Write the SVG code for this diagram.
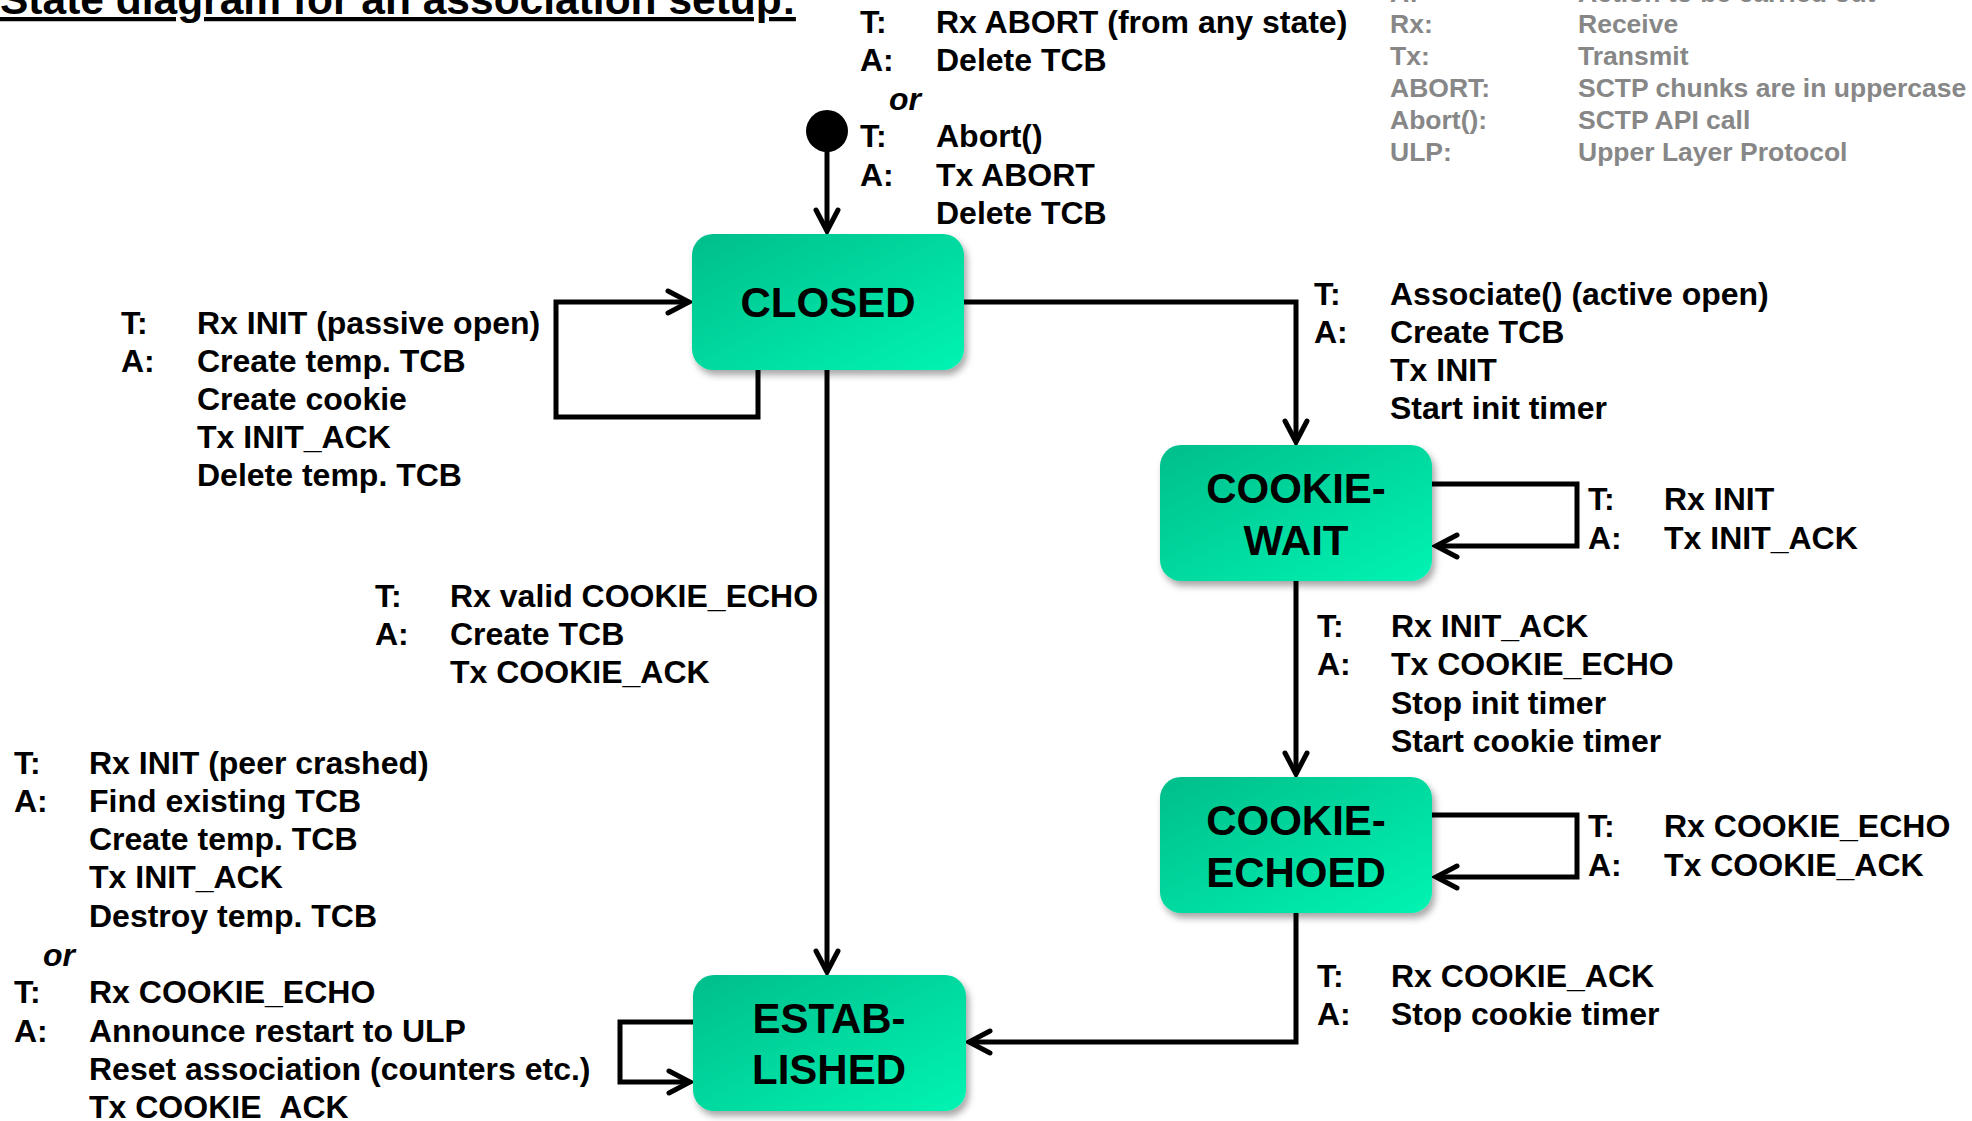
<svg xmlns="http://www.w3.org/2000/svg" width="1972" height="1121" viewBox="0 0 1972 1121">
<defs>
<linearGradient id="g" x1="0" y1="0" x2="1" y2="1">
<stop offset="0" stop-color="#06BE8B"/>
<stop offset="1" stop-color="#00F4B3"/>
</linearGradient>
<filter id="sh" x="-10%" y="-10%" width="125%" height="130%">
<feDropShadow dx="3" dy="5" stdDeviation="3.5" flood-color="#000" flood-opacity="0.35"/>
</filter>
<marker id="arr" markerUnits="userSpaceOnUse" markerWidth="40" markerHeight="40" viewBox="-30 -20 40 40" refX="0" refY="0" orient="auto" overflow="visible">
<path d="M-21,-11 L0,0 L-21,11" fill="none" stroke="#000" stroke-width="5" stroke-linecap="round" stroke-linejoin="miter"/>
</marker>
<style>
.t{font-family:"Liberation Sans",Arial,sans-serif;font-weight:bold;font-size:32px;fill:#000}
.i{font-style:italic}
.lg{font-family:"Liberation Sans",Arial,sans-serif;font-weight:bold;font-size:26.5px;fill:#878787}
.n{font-family:"Liberation Sans",Arial,sans-serif;font-weight:bold;font-size:42px;fill:#000;text-anchor:middle}
.box{fill:url(#g);filter:url(#sh)}
.c{fill:none;stroke:#000;stroke-width:5;stroke-linejoin:miter}
</style>
</defs>
<rect width="1972" height="1121" fill="#fff"/>

<text x="0" y="14" class="t" style="font-size:42.5px;text-decoration:underline">State diagram for an association setup:</text>

<g id="legend" class="lg">
<text x="1390" y="2">A:</text><text x="1578" y="2">Action to be carried out</text>
<text x="1390" y="33">Rx:</text><text x="1578" y="33">Receive</text>
<text x="1390" y="65">Tx:</text><text x="1578" y="65">Transmit</text>
<text x="1390" y="97">ABORT:</text><text x="1578" y="97">SCTP chunks are in uppercase</text>
<text x="1390" y="129">Abort():</text><text x="1578" y="129">SCTP API call</text>
<text x="1390" y="161">ULP:</text><text x="1578" y="161">Upper Layer Protocol</text>
</g>

<g id="connectors">
<circle cx="827" cy="131" r="21" fill="#000"/>
<path class="c" d="M827,150 V231" marker-end="url(#arr)"/>
<path class="c" d="M758,370 V417 H556 V302 H689" marker-end="url(#arr)"/>
<path class="c" d="M827,370 V972" marker-end="url(#arr)"/>
<path class="c" d="M964,302 H1296 V442" marker-end="url(#arr)"/>
<path class="c" d="M1432,484 H1577 V546 H1436" marker-end="url(#arr)"/>
<path class="c" d="M1296,581 V774" marker-end="url(#arr)"/>
<path class="c" d="M1432,815 H1577 V877 H1436" marker-end="url(#arr)"/>
<path class="c" d="M1296,913 V1042 H969" marker-end="url(#arr)"/>
<path class="c" d="M693,1022 H620 V1082 H690" marker-end="url(#arr)"/>
</g>

<g id="closed">
<rect class="box" x="692" y="234" width="272" height="136" rx="21"/>
<text class="n" x="828" y="317">CLOSED</text>
</g>
<g id="cookie-wait">
<rect class="box" x="1160" y="445" width="272" height="136" rx="21"/>
<text class="n" x="1296" y="503">COOKIE-</text>
<text class="n" x="1296" y="555">WAIT</text>
</g>
<g id="cookie-echoed">
<rect class="box" x="1160" y="777" width="272" height="136" rx="21"/>
<text class="n" x="1296" y="835">COOKIE-</text>
<text class="n" x="1296" y="887">ECHOED</text>
</g>
<g id="established">
<rect class="box" x="693" y="975" width="273" height="136" rx="21"/>
<text class="n" x="829" y="1033">ESTAB-</text>
<text class="n" x="829" y="1084">LISHED</text>
</g>

<g id="labels" class="t">
<text x="860" y="33">T:</text><text x="936" y="33">Rx ABORT (from any state)</text>
<text x="860" y="71">A:</text><text x="936" y="71">Delete TCB</text>
<text x="889" y="110" class="i">or</text>
<text x="860" y="147">T:</text><text x="936" y="147">Abort()</text>
<text x="860" y="186">A:</text><text x="936" y="186">Tx ABORT</text>
<text x="936" y="224">Delete TCB</text>

<text x="121" y="334">T:</text><text x="197" y="334">Rx INIT (passive open)</text>
<text x="121" y="372">A:</text><text x="197" y="372">Create temp. TCB</text>
<text x="197" y="410">Create cookie</text>
<text x="197" y="448">Tx INIT_ACK</text>
<text x="197" y="486">Delete temp. TCB</text>

<text x="375" y="607">T:</text><text x="450" y="607">Rx valid COOKIE_ECHO</text>
<text x="375" y="645">A:</text><text x="450" y="645">Create TCB</text>
<text x="450" y="683">Tx COOKIE_ACK</text>

<text x="14" y="774">T:</text><text x="89" y="774">Rx INIT (peer crashed)</text>
<text x="14" y="812">A:</text><text x="89" y="812">Find existing TCB</text>
<text x="89" y="850">Create temp. TCB</text>
<text x="89" y="888">Tx INIT_ACK</text>
<text x="89" y="927">Destroy temp. TCB</text>
<text x="43" y="966" class="i">or</text>
<text x="14" y="1003">T:</text><text x="89" y="1003">Rx COOKIE_ECHO</text>
<text x="14" y="1042">A:</text><text x="89" y="1042">Announce restart to ULP</text>
<text x="89" y="1080">Reset association (counters etc.)</text>
<text x="89" y="1118">Tx COOKIE_ACK</text>

<text x="1314" y="305">T:</text><text x="1390" y="305">Associate() (active open)</text>
<text x="1314" y="343">A:</text><text x="1390" y="343">Create TCB</text>
<text x="1390" y="381">Tx INIT</text>
<text x="1390" y="419">Start init timer</text>

<text x="1588" y="510">T:</text><text x="1664" y="510">Rx INIT</text>
<text x="1588" y="549">A:</text><text x="1664" y="549">Tx INIT_ACK</text>

<text x="1317" y="637">T:</text><text x="1391" y="637">Rx INIT_ACK</text>
<text x="1317" y="675">A:</text><text x="1391" y="675">Tx COOKIE_ECHO</text>
<text x="1391" y="714">Stop init timer</text>
<text x="1391" y="752">Start cookie timer</text>

<text x="1588" y="837">T:</text><text x="1664" y="837">Rx COOKIE_ECHO</text>
<text x="1588" y="876">A:</text><text x="1664" y="876">Tx COOKIE_ACK</text>

<text x="1317" y="987">T:</text><text x="1391" y="987">Rx COOKIE_ACK</text>
<text x="1317" y="1025">A:</text><text x="1391" y="1025">Stop cookie timer</text>
</g>
</svg>
